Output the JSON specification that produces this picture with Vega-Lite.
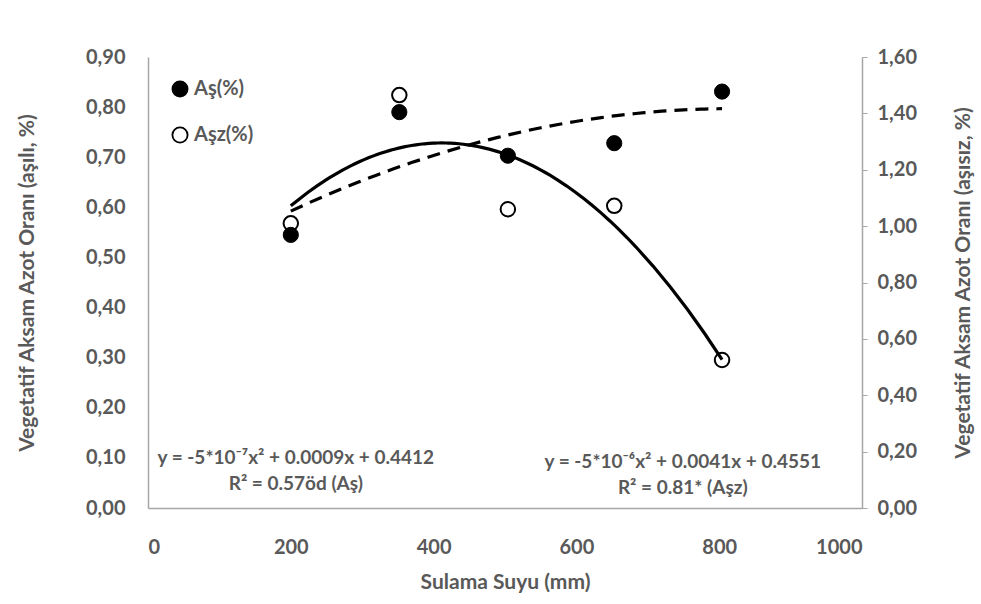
{
  "$schema": "https://vega.github.io/schema/vega-lite/v6.json",
  "width": 714,
  "height": 451,
  "autosize": "none",
  "padding": {"left": 148, "top": 57, "right": 119, "bottom": 96},
  "background": "white",
  "config": {
    "view": {"stroke": null},
    "font": "Lato",
    "axis": {
      "labelFont": "Lato", "labelFontWeight": "bold", "labelFontSize": 20, "labelColor": "#595959",
      "titleFont": "Lato", "titleFontWeight": "bold", "titleFontSize": 21, "titleColor": "#595959",
      "grid": false, "domainColor": "#a6a6a6", "domainWidth": 1.5, "tickColor": "#a6a6a6"
    },
    "legend": {"labelFont": "Lato", "labelFontWeight": "bold", "labelFontSize": 20, "labelColor": "#595959"}
  },
  "datasets": {
    "pts": [
      {"x": 200, "as": 0.545, "asz": 1.010},
      {"x": 352, "as": 0.790, "asz": 1.465},
      {"x": 504, "as": 0.703, "asz": 1.060},
      {"x": 653, "as": 0.728, "asz": 1.072},
      {"x": 804, "as": 0.831, "asz": 0.525}
    ],
    "eq": [
      {"x": 207, "ty": 0.099, "label": "y = -5*10⁻⁷x² + 0.0009x + 0.4412"},
      {"x": 207, "ty": 0.047, "label": "R² = 0.57öd (Aş)"},
      {"x": 749, "ty": 0.091, "label": "y = -5*10⁻⁶x² + 0.0041x + 0.4551"},
      {"x": 749, "ty": 0.039, "label": "R² = 0.81* (Aşz)"}
    ]
  },
  "layer": [
    {
      "data": {"name": "pts"},
      "layer": [
        {
          "mark": {"type": "point", "shape": "circle", "filled": true, "stroke": "black", "strokeWidth": 2, "size": 210, "opacity": 1},
          "encoding": {
            "x": {"field": "x", "type": "quantitative"},
            "y": {"field": "asz", "type": "quantitative"},
            "fill": {"datum": "Aşz(%)", "type": "nominal"}
          }
        },
        {
          "transform": [{"regression": "asz", "on": "x", "method": "poly", "order": 2, "extent": [200, 804]}],
          "mark": {"type": "line", "color": "black", "strokeWidth": 3.2},
          "encoding": {
            "x": {"field": "x", "type": "quantitative"},
            "y": {"field": "asz", "type": "quantitative"}
          }
        }
      ],
      "encoding": {
        "x": {"field": "x", "type": "quantitative",
          "scale": {"domain": [0, 1000]},
          "axis": {"values": [0, 200, 400, 600, 800, 1000], "format": "d", "title": "Sulama Suyu (mm)", "ticks": false, "tickSize": 0, "labelPadding": 29, "titlePadding": 14}},
        "y": {"field": "asz", "type": "quantitative",
          "scale": {"domain": [0, 1.6]},
          "axis": {"orient": "right", "values": [0, 0.2, 0.4, 0.6, 0.8, 1.0, 1.2, 1.4, 1.6],
            "labelExpr": "replace(format(datum.value, '.2f'), '.', ',')",
            "title": "Vegetatif Aksam Azot Oranı (aşısız, %)", "titleAngle": 270,
            "tickSize": 5, "labelPadding": 10, "titlePadding": 57}}
      }
    },
    {
      "data": {"name": "pts"},
      "layer": [
        {
          "mark": {"type": "rule", "color": "black", "strokeWidth": 2},
          "data": {"values": [{}]},
          "encoding": {"y": {"datum": 0.9, "type": "quantitative"}}
        },
        {
          "mark": {"type": "point", "shape": "circle", "filled": true, "stroke": "black", "strokeWidth": 1, "size": 230, "opacity": 1},
          "encoding": {
            "x": {"field": "x", "type": "quantitative"},
            "fill": {"datum": "Aş(%)", "type": "nominal",
              "scale": {"domain": ["Aş(%)", "Aşz(%)"], "range": ["black", "white"]},
              "legend": {"title": null, "orient": "top-left", "offset": 22, "symbolType": "circle", "symbolSize": 230,
                "symbolStrokeColor": "black", "symbolStrokeWidth": 1.8, "rowPadding": 22, "labelOffset": 4}}
          }
        },
        {
          "transform": [{"regression": "as", "on": "x", "method": "poly", "order": 2, "extent": [200, 804]}],
          "mark": {"type": "line", "color": "black", "strokeWidth": 3.2, "strokeDash": [13, 8]},
          "encoding": {
            "x": {"field": "x", "type": "quantitative"}
          }
        }
      ],
      "encoding": {
        "y": {"field": "as", "type": "quantitative",
          "scale": {"domain": [0, 0.9]},
          "axis": {"orient": "left", "values": [0, 0.1, 0.2, 0.3, 0.4, 0.5, 0.6, 0.7, 0.8, 0.9],
            "labelExpr": "replace(format(datum.value, '.2f'), '.', ',')",
            "title": "Vegetatif Aksam Azot Oranı (aşılı, %)",
            "ticks": false, "tickSize": 0, "labelPadding": 23, "titlePadding": 48}}
      }
    },
    {
      "data": {"name": "eq"},
      "mark": {"type": "text", "font": "Lato", "fontWeight": "bold", "fontSize": 19, "color": "#595959", "align": "center", "baseline": "middle"},
      "encoding": {
        "x": {"field": "x", "type": "quantitative"},
        "y": {"field": "ty", "type": "quantitative", "scale": {"domain": [0, 0.9]}, "axis": null},
        "text": {"field": "label"}
      }
    }
  ],
  "resolve": {"scale": {"y": "independent"}}
}
